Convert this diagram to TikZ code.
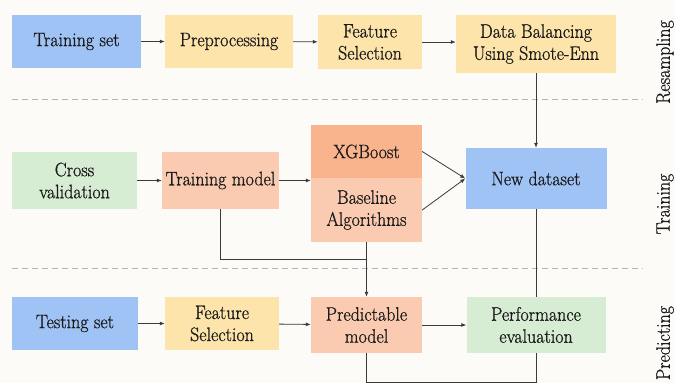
\documentclass[tikz,border=0pt]{standalone}
\usepackage{fontspec}
\setmainfont{Latin Modern Roman}[FakeStretch=0.92, FakeBold=0.8]
\usetikzlibrary{arrows.meta}

\definecolor{bgc}{HTML}{FDFBF8}
\definecolor{bluec}{HTML}{A0C3F6}
\definecolor{yellowc}{HTML}{FCE4AA}
\definecolor{greenc}{HTML}{D6ECD3}
\definecolor{orangec}{HTML}{F9B48E}
\definecolor{peachc}{HTML}{FBCBB1}
\definecolor{linec}{HTML}{3A3A3A}
\definecolor{dashc}{HTML}{B4B4B4}
\definecolor{txtc}{HTML}{1A1A1A}

\tikzset{
  box/.style={draw=none, inner sep=0pt, align=center, text=txtc,
    font=\fontsize{19.5}{22}\selectfont},
  conn/.style={draw=linec, line width=0.8pt},
  arr/.style={conn, -{Latex[length=5pt,width=4pt]}},
  sep/.style={draw=dashc, line width=0.8pt, dash pattern=on 6pt off 4pt},
  side/.style={rotate=90, text=txtc, font=\fontsize{19.5}{22}\selectfont},
}

\begin{document}
\begin{tikzpicture}[x=1pt,y=-1pt]
  \fill[bgc] (0,0) rectangle (675,383);
  \useasboundingbox (0,0) rectangle (675,383);

  % section separators
  \draw[sep] (12,99) -- (643,99);
  \draw[sep] (12,268) -- (643,268);

  % resampling row
  \node[box, fill=bluec, minimum width=129pt, minimum height=53pt] (train) at (76.5,41.5) {Training set};
  \node[box, fill=yellowc, minimum width=128pt, minimum height=53pt] (prep) at (229,41.5) {Preprocessing};
  \node[box, fill=yellowc, minimum width=104pt, minimum height=54pt] (fsa) at (370,42) {Feature\\Selection};
  \node[box, fill=yellowc, minimum width=160pt, minimum height=58pt] (bal) at (536,44) {Data Balancing\\Using Smote-Enn};

  % training row
  \node[box, fill=greenc, minimum width=125pt, minimum height=57pt] (cv) at (74.5,180.5) {Cross\\validation};
  \node[box, fill=peachc, minimum width=117pt, minimum height=57pt] (tm) at (220.5,180.5) {Training model};
  \node[box, fill=orangec, minimum width=111pt, minimum height=53pt] (xg) at (366.5,151.5) {XGBoost};
  \node[box, fill=peachc, minimum width=111pt, minimum height=64pt] (base) at (366.5,210) {Baseline\\Algorithms};
  \node[box, fill=bluec, minimum width=141pt, minimum height=61pt] (nd) at (536,178.5) {New dataset};

  % predicting row
  \node[box, fill=bluec, minimum width=126pt, minimum height=53pt] (test) at (75,323.5) {Testing set};
  \node[box, fill=yellowc, minimum width=114pt, minimum height=53pt] (fsb) at (222,323.5) {Feature\\Selection};
  \node[box, fill=peachc, minimum width=111pt, minimum height=56pt] (pm) at (366.5,325) {Predictable\\model};
  \node[box, fill=greenc, minimum width=139pt, minimum height=56pt] (pe) at (536,325) {Performance\\evaluation};

  % side labels
  \node[side] (lres) at (665,62) {Resampling};
  \node[side] (ltra) at (665,204) {Training};
  \node[side] (lpre) at (665,343) {Predicting};

  % connectors, resampling row
  \draw[arr] (train) -- (prep);
  \draw[arr] (prep) -- (fsa);
  \draw[arr] (fsa) -- (fsa -| bal.west);
  \draw[arr] (bal) -- (nd);

  % connectors, training row
  \draw[arr] (cv) -- (tm);
  \draw[arr] (tm) -- (tm -| xg.west);
  \draw[arr] (xg.east) -- (nd.west);
  \draw[arr] (base.east) -- (nd.west);
  \coordinate (join) at (366.5,259);
  \draw[conn] (tm.south) |- (join);
  \draw[arr] (base.south) -- (pm.north);
  \draw[conn] (nd.south) -- (pe.north);

  % connectors, predicting row
  \draw[arr] (test) -- (fsb);
  \draw[arr] (fsb) -- (pm);
  \draw[arr] (pm) -- (pe);
  \draw[conn] (pm.south) -- ++(0,29) -| (pe.south);
\end{tikzpicture}
\end{document}
